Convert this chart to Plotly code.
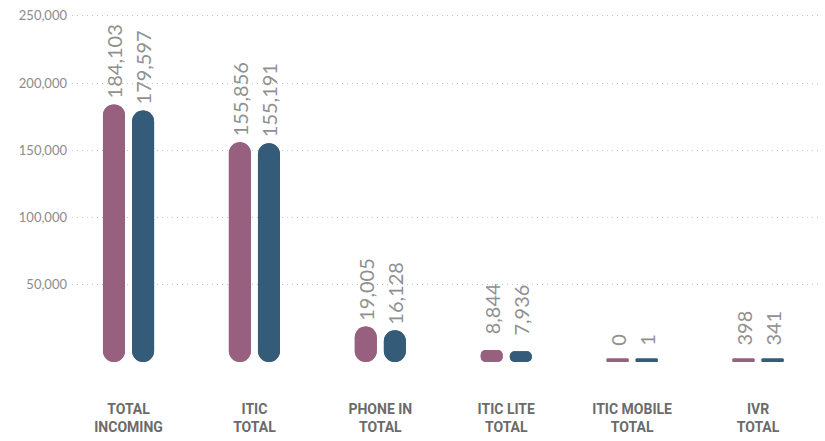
import plotly.graph_objects as go

categories = ["TOTAL<br>INCOMING", "ITIC<br>TOTAL", "PHONE IN<br>TOTAL",
              "ITIC LITE<br>TOTAL", "ITIC MOBILE<br>TOTAL", "IVR<br>TOTAL"]
series_a = [184103, 155856, 19005, 8844, 0, 398]
series_b = [179597, 155191, 16128, 7936, 1, 341]
y_ticks = [50000, 100000, 150000, 200000, 250000]

COLOR_A = "#98607F"
COLOR_B = "#345C78"

# pill styling: caps extend a little below the baseline; tiny bars collapse to a thin line
CAP = 7435          # ~10px below zero
MIN_PILL = 2600     # ~3.5px minimum pill length
SMALL = 9000


def extents(v):
    bottom = -CAP
    if v >= SMALL:
        top = v
    else:
        top = bottom + max(v, MIN_PILL)
    return bottom, top


fig = go.Figure()
W = 0.175          # bar width (category units)
OFFS = [-0.203, 0.028]

for vals, color, off in [(series_a, COLOR_A, OFFS[0]), (series_b, COLOR_B, OFFS[1])]:
    bots, tops = zip(*[extents(v) for v in vals])
    # upward bar: rounded top
    fig.add_trace(go.Bar(x=categories, y=[t - b for t, b in zip(tops, bots)], base=list(bots),
                         marker=dict(color=color, cornerradius=11, line=dict(width=0)),
                         width=W, offset=off, hoverinfo="skip", showlegend=False))
    # downward bar: rounded bottom
    fig.add_trace(go.Bar(x=categories, y=[b - t for t, b in zip(tops, bots)], base=list(tops),
                         marker=dict(color=color, cornerradius=11, line=dict(width=0)),
                         width=W, offset=off, hoverinfo="skip", showlegend=False))

annotations = []
for vals, shift in [(series_a, -14.5), (series_b, 14.5)]:
    for c, v in zip(categories, vals):
        annotations.append(dict(x=c, y=v, xref="x", yref="y", text=f"{v:,}", showarrow=False,
                                textangle=-90, xanchor="center", yanchor="bottom",
                                xshift=shift, yshift=4,
                                font=dict(family="Lato", size=20, color="#909090", weight=400)))

fig.update_layout(
    width=825, height=441,
    margin=dict(l=72, r=3, t=10, b=76),
    paper_bgcolor="white", plot_bgcolor="white",
    barmode="overlay",
    annotations=annotations,
    xaxis=dict(range=[-0.449, 5.508], showgrid=False, zeroline=False, showline=False,
               ticks="", ticklabelstandoff=34, automargin=False,
               tickfont=dict(family="Liberation Sans Narrow, Roboto", size=14, color="#6b6b6b", weight="bold")),
    yaxis=dict(range=[-9665, 254275], tickvals=y_ticks, tickformat=",", showgrid=True,
               gridcolor="#c4c4c4", griddash="1px,4px", gridwidth=1, zeroline=False, showline=False,
               ticks="", ticklabelstandoff=4, automargin=False,
               tickfont=dict(family="Lato", size=13, color="#8c8c8c")),
)

fig.write_html("out.html", config={"displayModeBar": False},
               post_script="document.body.style.margin='0';document.body.style.overflow='hidden';")
